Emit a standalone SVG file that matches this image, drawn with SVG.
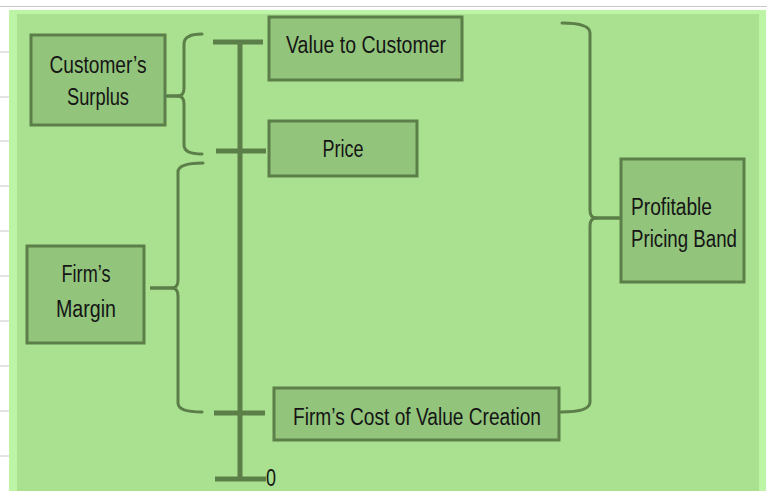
<svg xmlns="http://www.w3.org/2000/svg" width="767" height="491" viewBox="0 0 767 491">
<style>
.box{fill:#92c47c;stroke:#5c7e49;stroke-width:3}
.br{fill:none;stroke:#5c7e49;stroke-width:3;stroke-linecap:round;stroke-linejoin:round}
.ax{fill:none;stroke:#5c7e49;stroke-width:5}
.st{fill:none;stroke:#5c7e49;stroke-width:3.5}
.t{font-family:"Liberation Sans Narrow","Liberation Sans",Arial,sans-serif;font-size:23px;fill:#151515}
.grid{stroke:#c8c8c8;stroke-width:1}
</style>
<rect x="0" y="0" width="767" height="491" fill="#ffffff"/>
<line class="grid" x1="0" y1="6.5" x2="767" y2="6.5"/>
<g id="grid">
<line class="grid" x1="0" y1="52" x2="9" y2="52"/>
<line class="grid" x1="0" y1="97" x2="9" y2="97"/>
<line class="grid" x1="0" y1="141" x2="9" y2="141"/>
<line class="grid" x1="0" y1="186" x2="9" y2="186"/>
<line class="grid" x1="0" y1="231" x2="9" y2="231"/>
<line class="grid" x1="0" y1="276" x2="9" y2="276"/>
<line class="grid" x1="0" y1="321" x2="9" y2="321"/>
<line class="grid" x1="0" y1="366" x2="9" y2="366"/>
<line class="grid" x1="0" y1="411" x2="9" y2="411"/>
<line class="grid" x1="0" y1="456" x2="9" y2="456"/>
</g>
<rect x="9" y="10" width="757" height="481" fill="#bdf5a6"/>
<rect x="17" y="14" width="742" height="477" fill="#aae191"/>

<g id="connectors">
<path class="br" d="M202,34 Q184,34 184,44 L184,88 Q184,96 178,96 Q184,96 184,104 L184,145 Q184,154 202,154"/>
<line class="st" x1="165" y1="96" x2="179" y2="96"/>
<path class="br" d="M203,163 Q178,163 178,172 L178,280 Q178,288 172,288 Q178,288 178,296 L178,403 Q178,412 202,412"/>
<line class="st" x1="150" y1="288" x2="173" y2="288"/>
<path class="br" d="M562,23 Q590,23 590,33 L590,210 Q590,218 596,218 Q590,218 590,226 L590,402 Q590,412 561,412"/>
<line class="st" x1="595" y1="218" x2="621" y2="218"/>
<line class="ax" x1="240" y1="40" x2="240" y2="481"/>
<line class="ax" x1="213" y1="42" x2="263" y2="42"/>
<line class="ax" x1="216" y1="151" x2="266" y2="151"/>
<line class="ax" x1="214" y1="413" x2="265" y2="413"/>
<line class="ax" x1="215" y1="479" x2="266" y2="479"/>
</g>

<g id="customers-surplus">
<rect class="box" x="31" y="35" width="134" height="90"/>
<text class="t" x="98" y="73" text-anchor="middle" textLength="97" lengthAdjust="spacingAndGlyphs">Customer’s</text>
<text class="t" x="98" y="105" text-anchor="middle" textLength="62" lengthAdjust="spacingAndGlyphs">Surplus</text>
</g>
<g id="value-to-customer">
<rect class="box" x="269" y="17" width="193" height="63"/>
<text class="t" x="366" y="53" text-anchor="middle" textLength="160" lengthAdjust="spacingAndGlyphs">Value to Customer</text>
</g>
<g id="price">
<rect class="box" x="269" y="121" width="148" height="55"/>
<text class="t" x="343" y="157" text-anchor="middle" textLength="41" lengthAdjust="spacingAndGlyphs">Price</text>
</g>
<g id="firms-margin">
<rect class="box" x="27" y="246" width="117" height="97"/>
<text class="t" x="86" y="282" text-anchor="middle" textLength="49" lengthAdjust="spacingAndGlyphs">Firm’s</text>
<text class="t" x="86" y="317" text-anchor="middle" textLength="60" lengthAdjust="spacingAndGlyphs">Margin</text>
</g>
<g id="firms-cost">
<rect class="box" x="274" y="388" width="285" height="52"/>
<text class="t" x="417" y="425" text-anchor="middle" textLength="248" lengthAdjust="spacingAndGlyphs">Firm’s Cost of Value Creation</text>
</g>
<g id="profitable-pricing-band">
<rect class="box" x="621" y="159" width="123" height="123"/>
<text class="t" x="631" y="215" textLength="81" lengthAdjust="spacingAndGlyphs">Profitable</text>
<text class="t" x="631" y="247" textLength="106" lengthAdjust="spacingAndGlyphs">Pricing Band</text>
</g>
<g id="zero">
<text class="t" x="266" y="486" font-size="20" textLength="10" lengthAdjust="spacingAndGlyphs">0</text>
</g>
</svg>
